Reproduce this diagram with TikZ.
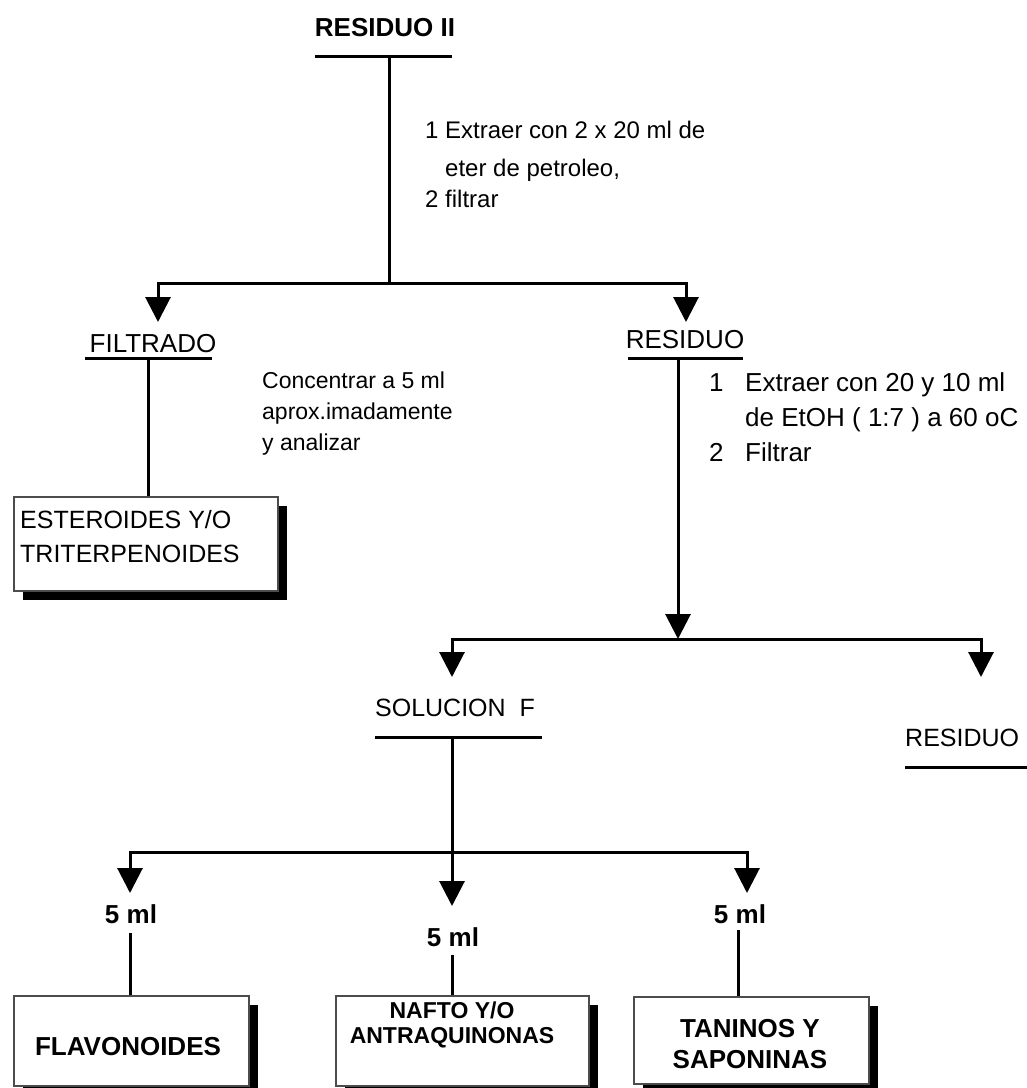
\documentclass[tikz,border=0pt]{standalone}
\usepackage{fontspec}
\setmainfont{Liberation Sans}
\usetikzlibrary{arrows.meta,shadows}
\begin{document}
\begin{tikzpicture}[x=1pt,y=-1pt,
  line/.style={line width=3pt},
  arr/.style={line width=3pt,-{Triangle[width=25pt,length=25pt]}},
  lbl/.style={font=\fontsize{25}{30}\selectfont, inner sep=0pt, anchor=base},
  blbl/.style={font=\fontsize{26}{30}\selectfont\bfseries, inner sep=0pt, anchor=base},
  sbl/.style={font=\fontsize{23}{28}\selectfont\bfseries, inner sep=0pt, anchor=base},
  note/.style={font=\fontsize{23}{28}\selectfont, inner sep=0pt, anchor=base west},
  widenote/.style={font=\fontsize{26}{30}\selectfont, inner sep=0pt, anchor=base west},
  boxtxt/.style={font=\fontsize{25}{30}\selectfont, inner sep=0pt, anchor=base west},
  rbox/.style={draw=black!70, line width=1.5pt, fill=white, inner sep=0pt, anchor=north west,
    drop shadow={shadow xshift=9pt, shadow yshift=-9pt, fill=black, opacity=1}},
]
\useasboundingbox (0,0) rectangle (1027,1088);

% ---- RESIDUO II ----
\node[blbl] (r2) at (385,36) {RESIDUO II};
\coordinate (r2uL) at (315,56);
\coordinate (r2uR) at (452,56);
\coordinate (r2j) at (389,56);
\draw[line] (r2uL) -- (r2uR);
\coordinate (split1) at (389,283);
\coordinate (filtTip) at (158,322);
\coordinate (resTip) at (686,322);
\draw[line] (r2j) -- (split1);
\draw[arr] (split1) -| (filtTip);
\draw[arr] (split1) -| (resTip);

\node[note, font=\fontsize{24}{28}\selectfont] (n1a) at (425,138) {1 Extraer con 2 x 20 ml de};
\node[note, font=\fontsize{24}{28}\selectfont] (n1b) at (445,176) {eter de petroleo,};
\node[note, font=\fontsize{24}{28}\selectfont] (n1c) at (425,207) {2 filtrar};

% ---- FILTRADO ----
\node[lbl, font=\fontsize{26}{30}\selectfont] (filt) at (153,352) {FILTRADO};
\coordinate (filtuL) at (85,358);
\coordinate (filtuR) at (212,358);
\coordinate (filtj) at (148,358);
\draw[line] (filtuL) -- (filtuR);

\node[note] (n2a) at (262,388) {Concentrar a 5 ml};
\node[note] (n2b) at (262,419) {aprox.imadamente};
\node[note] (n2c) at (262,450) {y analizar};

\node[rbox, minimum width=264pt, minimum height=94pt] (est) at (13,496) {};
\node[boxtxt] (est1) at (20,528) {ESTEROIDES Y/O};
\node[boxtxt] (est2) at (20,562) {TRITERPENOIDES};
\draw[line] (filtj) -- (filtj |- est.north);

% ---- RESIDUO ----
\node[lbl, font=\fontsize{26}{30}\selectfont] (res) at (685,348) {RESIDUO};
\coordinate (resuL) at (628,358);
\coordinate (resuR) at (743,358);
\coordinate (resj) at (678,358);
\draw[line] (resuL) -- (resuR);

\node[widenote] (n3a) at (709,391) {\makebox[36pt][l]{1}Extraer con 20 y 10 ml};
\node[widenote] (n3b) at (745,426) {de EtOH ( 1:7 ) a 60 oC};
\node[widenote] (n3c) at (709,461) {\makebox[36pt][l]{2}Filtrar};

\coordinate (split2) at (678,639);
\coordinate (solTip) at (452,677);
\coordinate (res3Tip) at (981,677);
\draw[arr] (resj) -- (split2);
\draw[arr] (split2) -| (solTip);
\draw[arr] (split2) -| (res3Tip);

% ---- RESIDUO (right) ----
\node[lbl, anchor=base west] (res3) at (905,746) {RESIDUO};
\coordinate (res3uL) at (905,767);
\coordinate (res3uR) at (1027,767);
\draw[line] (res3uL) -- (res3uR);

% ---- SOLUCION F ----
\node[lbl] (sol) at (455,716) {SOLUCION\ \ F};
\coordinate (soluL) at (375,737);
\coordinate (soluR) at (542,737);
\coordinate (solj) at (452,737);
\draw[line] (soluL) -- (soluR);
\coordinate (split3) at (452,852);
\coordinate (leftTip) at (130,893);
\coordinate (midTip) at (452,906);
\coordinate (rightTip) at (747,893);
\draw[line] (solj) -- (split3);
\draw[arr] (split3) -- (midTip);
\draw[arr] (split3) -| (leftTip);
\draw[arr] (split3) -| (rightTip);

% ---- 5 ml ----
\node[blbl] (ml1) at (131,923) {5 ml};
\node[blbl] (ml2) at (453,946) {5 ml};
\node[blbl] (ml3) at (740,923) {5 ml};

% ---- bottom boxes ----
\node[rbox, minimum width=235pt, minimum height=90pt] (flav) at (13,995) {};
\node[blbl] (flavt) at (128,1055) {FLAVONOIDES};

\node[rbox, minimum width=253pt, minimum height=90pt] (naf) at (335,995) {};
\node[sbl] (naft1) at (452,1018) {NAFTO Y/O};
\node[sbl] (naft2) at (452,1043) {ANTRAQUINONAS};

\node[rbox, minimum width=235pt, minimum height=87pt] (tan) at (633,996) {};
\node[blbl] (tant1) at (750,1037) {TANINOS Y};
\node[blbl] (tant2) at (750,1068) {SAPONINAS};

\coordinate (ml1b) at (130,933);
\coordinate (ml2b) at (452,955);
\coordinate (ml3b) at (738,930);
\draw[line] (ml1b) -- (ml1b |- flav.north);
\draw[line] (ml2b) -- (ml2b |- naf.north);
\draw[line] (ml3b) -- (ml3b |- tan.north);
\end{tikzpicture}
\end{document}
